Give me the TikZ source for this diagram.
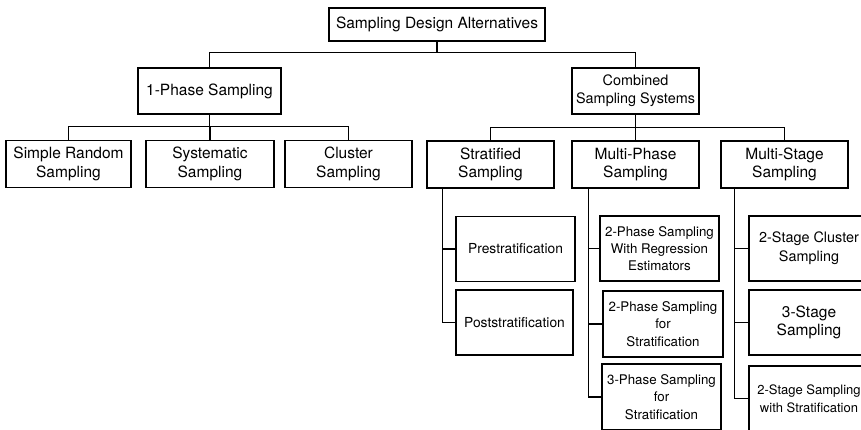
\documentclass[tikz,border=0pt]{standalone}
\usepackage{fontspec}
\setmainfont{TeX Gyre Heros}

\begin{document}
\begin{tikzpicture}[x=1pt,y=-1pt]
  %--------------------------------------------
  % Styles
  %--------------------------------------------
  \tikzset{
    box/.style={draw, line width=1.2pt, align=center, inner sep=0pt,
      minimum width=127pt, minimum height=47pt,
      font=\fontsize{15.5}{18.7}\selectfont},
    leafbox/.style={box, minimum width=119pt, minimum height=65pt,
      font=\fontsize{13.3}{17.3}\selectfont},
    link/.style={line width=1.2pt},
  }

  % frame of the picture (the right and lower boxes run off the edge)
  \path[use as bounding box, clip] (0,0) rectangle (861,429);

  %--------------------------------------------
  % Top and second level
  %--------------------------------------------
  \node[box, minimum width=216pt, minimum height=33pt] (root) at (437,24.5)
    {Sampling Design Alternatives};
  \node[box, minimum width=143pt, minimum height=46pt] (onephase) at (209.5,91)
    {1-Phase Sampling};
  \node[box, minimum height=46pt, font=\fontsize{14.4}{18}\selectfont] (combined) at (635.5,91)
    {Combined\\Sampling Systems};

  %--------------------------------------------
  % Third level
  %--------------------------------------------
  \node[box, minimum width=125pt] (srs) at (68.5,164) {Simple Random\\Sampling};
  \node[box, minimum width=128pt] (syst) at (210,164) {Systematic\\Sampling};
  \node[box] (cluster) at (348.5,164) {Cluster\\Sampling};

  \node[box] (strat) at (490.5,164.5) {Stratified\\Sampling};
  \node[box] (multiphase) at (635.5,164.5) {Multi-Phase\\Sampling};
  \node[box] (multistage) at (784.5,164.5) {Multi-Stage\\Sampling};

  %--------------------------------------------
  % Leaves hanging from the side trunks
  %--------------------------------------------
  \node[leafbox, font=\fontsize{13.8}{17.5}\selectfont] (prestrat) at (515.5,249) {Prestratification};
  \node[leafbox, minimum width=117pt, font=\fontsize{13.8}{17.5}\selectfont] (poststrat) at (514.5,322.5) {Poststratification};

  \node[leafbox] (phreg) at (659.5,248.5) {2-Phase Sampling\\With Regression\\Estimators};
  \node[leafbox, minimum width=120pt, minimum height=66pt] (phstrat) at (663,324) {2-Phase Sampling\\for\\Stratification};
  \node[leafbox, minimum height=66pt] (threephase) at (661.5,397) {3-Phase Sampling\\for\\Stratification};

  \node[leafbox, minimum width=120pt, font=\fontsize{14.4}{19}\selectfont] (stcluster) at (809,248.5) {2-Stage Cluster\\Sampling};
  \node[leafbox, minimum width=120pt, font=\fontsize{15.5}{18.7}\selectfont] (threestage) at (809,322.5) {3-Stage\\Sampling};
  \node[leafbox, minimum width=120pt, font=\fontsize{13}{18}\selectfont] (ststrat) at (809,398.5) {2-Stage Sampling\\with Stratification};

  %--------------------------------------------
  % Connectors
  %--------------------------------------------
  \draw[link] (root.south) -- ++(0,11) -| (onephase.north);
  \draw[link] (root.south) -- ++(0,11) -| (combined.north);

  \foreach \c in {srs,syst,cluster}
    \draw[link] (onephase.south) -- ++(0,12) -| (\c.north);
  \foreach \c in {strat,multiphase,multistage}
    \draw[link] (combined.south) -- ++(0,13) -| (\c.north);

  % side trunks
  \foreach \c in {prestrat,poststrat}
    \draw[link] ([xshift=16pt]strat.south west) |- (\c.west);
  \foreach \c in {phreg,phstrat,threephase}
    \draw[link] ([xshift=17pt]multiphase.south west) |- (\c.west);
  \foreach \c in {stcluster,threestage,ststrat}
    \draw[link] ([xshift=14pt]multistage.south west) |- (\c.west);
\end{tikzpicture}
\end{document}
